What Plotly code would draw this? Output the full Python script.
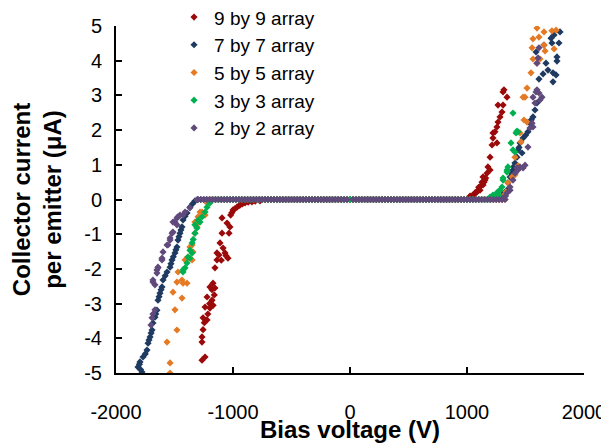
import plotly.graph_objs as go

# flat part of the sweep (current ~ 0), volts
flat_v = [-1300, -1275, -1250, -1225, -1200, -1175, -1150, -1125, -1100, -1075,
          -1050, -1025, -1000, -975, -950, -925, -900, -875, -850, -825,
          -800, -775, -750, -725, -700, -675, -650, -625, -600, -575,
          -550, -525, -500, -475, -450, -425, -400, -375, -350, -325,
          -300, -275, -250, -225, -200, -175, -150, -125, -100, -75,
          -50, -25, 0, 25, 50, 75, 100, 125, 150, 175,
          200, 225, 250, 275, 300, 325, 350, 375, 400, 425,
          450, 475, 500, 525, 550, 575, 600, 625, 650, 675,
          700, 725, 750, 775, 800, 825, 850, 875, 900, 925,
          950, 975, 1000, 1025, 1050, 1075, 1100, 1125, 1150, 1175,
          1200, 1225, 1250, 1275, 1300, 1325]

names = ['9 by 9 array', '7 by 7 array', '5 by 5 array', '3 by 3 array', '2 by 2 array']
colors = ['#9B0A0A', '#1F3A60', '#E57A25', '#00B050', '#604A7B']
flat_ranges = [[(-775, 1000)], [(-1300, 1300)], [(-1200, 1325)], [(-1175, 1200)],
               [(-1300, -25), (25, 1325)]]

x_ticks = [-2000, -1000, 0, 1000, 2000]
x_ticktext = ['-2000', '-1000', '0', '1000', '2000']
y_ticks = [-5, -4, -3, -2, -1, 0, 1, 2, 3, 4, 5]
y_ticktext = ['-5', '-4', '-3', '-2', '-1', '0', '1', '2', '3', '4', '5']

# 9 by 9
v9 = [-769, -810, -838, -870, -897, -920, -940, -950, -966, -985, -1000, -1010, -1020,
      -1094, -1051, -1026, -1094, -1034, -1111, -1085, -1137, -1068, -1120, -1100, -1060,
      -1137, -1043, -1154, -1171, -1197, -1154, -1180, -1160, -1222, -1179, -1200, -1170,
      -1239, -1197, -1215, -1256, -1222, -1245, -1256, -1265, -1265, -1239, -1265,
      1015, 1026, 1035, 1043, 1050, 1060, 1068, 1075, 1085, 1090, 1100, 1111, 1120, 1128,
      1137, 1137, 1145, 1154, 1160, 1171, 1179, 1197,
      1197, 1214, 1222, 1222, 1239, 1256, 1256, 1265, 1282, 1299, 1265, 1308, 1342, 1316, 1308]
i9 = [-0.04, -0.05, -0.07, -0.08, -0.10, -0.13, -0.16, -0.18, -0.22, -0.27, -0.30, -0.38, -0.45,
      -0.53, -0.68, -0.79, -0.97, -0.97, -1.25, -1.40, -1.54, -1.54, -1.60, -1.75, -1.62,
      -1.74, -1.69, -1.97, -2.41, -2.52, -2.55, -2.60, -2.75, -2.81, -2.90, -3.00, -3.05,
      -3.10, -3.13, -3.30, -3.41, -3.47, -3.55, -3.75, -3.96, -4.11, -4.54, -4.63,
      0.04, 0.10, 0.09, 0.07, 0.12, 0.15, 0.19, 0.20, 0.22, 0.25, 0.35, 0.27, 0.40, 0.50,
      0.42, 0.65, 0.50, 0.56, 0.62, 0.76, 0.94, 1.22,
      0.85, 1.57, 1.77, 1.92, 1.95, 2.09, 1.63, 2.23, 2.38, 2.52, 2.72, 2.72, 2.95, 3.16, 3.10]

# 7 by 7
v7 = [-1325, -1345, -1368, -1393, -1410, -1427, -1436, -1445, -1453, -1462, -1470, -1479,
      -1488, -1496, -1510, -1521, -1530, -1538, -1564, -1580, -1598, -1607, -1615, -1624,
      -1632, -1641, -1650, -1660, -1667, -1684, -1692, -1700, -1709, -1718, -1726, -1735,
      -1750, -1769, -1795, -1800, -1812, -1790, -1778,
      1308, 1320, 1342, 1350, 1368, 1380, 1393, 1400, 1410, 1427, 1470, 1436, 1445, 1453,
      1479, 1500, 1521, 1538, 1550, 1564, 1581, 1598, 1615, 1650, 1735, 1761, 1735, 1692,
      1769, 1769, 1675, 1590, 1658, 1786, 1726, 1718, 1744, 1795]
i7 = [-0.04, -0.12, -0.22, -0.39, -0.48, -0.59, -0.79, -0.88, -0.97, -1.07, -1.17, -1.37,
      -1.45, -1.54, -1.65, -1.74, -1.85, -1.95, -2.09, -2.20, -2.32, -2.52, -2.60, -2.70,
      -2.80, -2.90, -3.19, -3.30, -3.39, -3.56, -3.76, -3.85, -3.96, -4.05, -4.14, -4.34,
      -4.45, -4.54, -4.68, -4.75, -4.83, -4.90, -4.97,
      0.13, 0.20, 0.27, 0.48, 0.65, 0.75, 0.85, 0.95, 1.05, 1.22, 1.34, 1.43, 1.50, 1.63,
      1.77, 1.85, 1.95, 2.20, 2.30, 2.38, 2.58, 2.78, 3.47, 3.62, 3.39, 3.59, 3.65, 3.73,
      3.99, 4.11, 3.93, 4.25, 4.45, 4.51, 4.51, 4.65, 4.74, 4.83]

# 5 by 5
v5 = [-1222, -1265, -1239, -1282, -1299, -1325, -1308, -1308, -1325, -1350, -1368, -1342,
      -1385, -1410, -1350, -1470, -1479, -1427, -1393, -1436, -1513, -1436, -1496, -1479,
      -1564, -1538, -1538,
      1310, 1333, 1350, 1385, 1410, 1436, 1410, 1462, 1453, 1513, 1487, 1479, 1496, 1513,
      1547, 1598, 1564, 1624, 1667, 1556, 1744, 1658, 1564, 1615, 1658, 1726, 1761, 1598]
i5 = [-0.10, -0.36, -0.45, -0.36, -0.50, -0.65, -0.68, -0.79, -0.97, -1.31, -1.37, -1.51,
      -1.66, -1.74, -1.74, -2.09, -2.38, -2.41, -2.41, -2.32, -2.67, -2.84, -3.18, -3.76,
      -4.11, -4.71, -5.0,
      0.10, 0.22, 0.48, 0.65, 0.71, 0.97, 1.22, 1.66, 1.92, 2.23, 2.29, 2.95, 2.95, 3.21,
      3.65, 3.93, 4.05, 4.05, 4.28, 4.37, 4.34, 4.45, 4.63, 4.68, 4.83, 4.86, 4.88, 4.94]

# 3 by 3
v3 = [-1197, -1222, -1239, -1265, -1299, -1282, -1325, -1308, -1325, -1340, -1350, -1368,
      -1350, -1385, -1368, -1393, -1410, -1427, -1427,
      0, 1197, 1222, 1240, 1256, 1265, 1280, 1282, 1299, 1308, 1308, 1342, 1342, 1350,
      1410, 1393, 1376, 1419, 1436, 1427, 1393]
i3 = [-0.10, -0.22, -0.36, -0.50, -0.59, -0.65, -0.73, -0.82, -0.97, -1.15, -1.25, -1.46,
      -1.54, -1.66, -1.69, -1.83, -1.97, -2.03, -2.09,
      0.0, 0.07, 0.13, 0.05, 0.19, 0.22, 0.10, 0.27, 0.36, 0.56, 0.62, 0.79, 0.85, 0.94,
      1.37, 1.43, 1.63, 1.92, 1.95, 1.97, 2.49]

# 2 by 2
v2 = [-1308, -1368, -1410, -1427, -1453, -1470, -1479, -1513, -1496, -1479, -1513, -1521,
      -1538, -1538, -1556, -1564, -1598, -1607, -1607, -1641, -1641, -1650, -1650, -1684,
      -1684, -1667, -1667, -1684, -1692, -1701,
      1310, 1330, 1342, 1368, 1368, 1393, 1410, 1427, 1436, 1453, 1479, 1496, 1521, 1556,
      1564, 1538, 1581, 1590, 1615, 1641, 1624, 1598, 1564, 1598, 1607, 1615]
i2 = [-0.01, -0.24, -0.36, -0.45, -0.45, -0.50, -0.53, -0.65, -0.65, -0.73, -0.94, -0.97,
      -1.11, -1.17, -1.31, -1.31, -1.51, -1.69, -1.74, -1.95, -1.97, -2.03, -2.12, -2.32,
      -2.38, -2.46, -3.18, -3.30, -3.41, -3.62,
      0.05, 0.10, 0.19, 0.27, 0.36, 0.56, 0.76, 0.91, 0.85, 0.94, 0.91, 0.99, 1.51, 2.20,
      2.09, 2.06, 2.78, 3.10, 3.07, 2.95, 2.87, 3.16, 2.95, 3.93, 4.08, 4.37]

series_v = [v9, v7, v5, v3, v2]
series_i = [i9, i7, i5, i3, i2]

font = 'Liberation Sans, Arial, sans-serif'

data = []
for k in range(5):
    xs = []
    for lo, hi in flat_ranges[k]:
        xs += [v for v in flat_v if lo <= v <= hi]
    xs += series_v[k]
    ys = [0.0] * (len(xs) - len(series_i[k])) + series_i[k]
    data.append(go.Scatter(
        x=xs, y=ys, mode='markers', name=names[k],
        marker=dict(symbol='diamond', size=5.5, color=colors[k], line=dict(width=0))
    ))

# page body adds an 8px offset, so the figure is 8px smaller than the window
fig = go.Figure(data=data)
fig.update_layout(
    width=601, height=435,
    margin=dict(l=108, r=25, t=18, b=70, autoexpand=False),
    plot_bgcolor='white', paper_bgcolor='white',
    font=dict(family=font, size=20, color='black'),
    showlegend=True,
    legend=dict(x=0.124, y=1.08, xanchor='left', yanchor='top',
                bgcolor='rgba(0,0,0,0)', font=dict(size=19)),
)
fig.update_xaxes(
    range=[-2000, 2000], tickvals=x_ticks, ticktext=x_ticktext,
    showline=True, linecolor='black', linewidth=2, mirror=False,
    ticks='inside', ticklen=6, tickwidth=2, tickcolor='black',
    showgrid=False, zeroline=False, ticklabelstandoff=20, automargin=False,
    title=dict(text='<b>Bias voltage (V)</b>', font=dict(size=24), standoff=8)
)
fig.update_yaxes(
    range=[-5, 5], tickvals=y_ticks, ticktext=y_ticktext,
    showline=True, linecolor='black', linewidth=2,
    ticks='inside', ticklen=6, tickwidth=2, tickcolor='black',
    showgrid=False, zeroline=False, ticklabelstandoff=8, automargin=False,
    title=dict(text='<b>Collector current<br>per emitter (μA)</b>', font=dict(size=24), standoff=19)
)
fig.write_html("out.html")
